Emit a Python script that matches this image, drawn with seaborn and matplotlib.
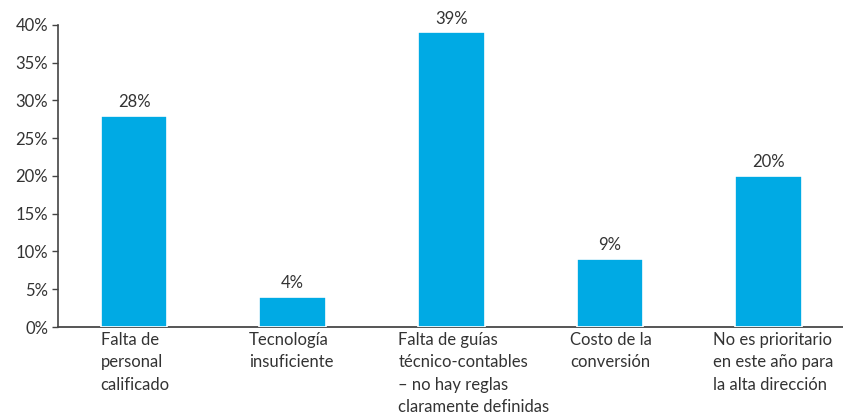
import matplotlib
matplotlib.use("Agg")
import matplotlib.pyplot as plt
import seaborn as sns
import pandas as pd
from matplotlib.ticker import FuncFormatter

categories = [
    "Falta de\npersonal\ncalificado",
    "Tecnología\ninsuficiente",
    "Falta de guías\ntécnico-contables\n– no hay reglas\nclaramente definidas",
    "Costo de la\nconversión",
    "No es prioritario\nen este año para\nla alta dirección",
]
values = [28, 4, 39, 9, 20]
yticks = [0, 5, 10, 15, 20, 25, 30, 35, 40]

sns.set_theme(style="white")
plt.rcParams["font.family"] = ["Lato", "DejaVu Sans"]

text_color = "#333333"
bar_color = "#00AAE4"
bar_width = 0.42
# horizontal shift (pixels) of each category label's left edge from the bar centre
label_shift_px = [-33.5, -43.5, -53, -40, -55]

df = pd.DataFrame({"cat": categories, "val": values})

fig = plt.figure(figsize=(8.43, 4.15), dpi=100)
ax = fig.add_axes([0.0688, 0.212, 0.9312, 0.728])

sns.barplot(data=df, x="cat", y="val", color=bar_color, width=bar_width,
            saturation=1, ax=ax, edgecolor="white", linewidth=1.2, zorder=3)

ax.set_ylim(0, 40)
ax.set_xlim(-0.48, 4.47)
ax.set_yticks(yticks)
ax.yaxis.set_major_formatter(FuncFormatter(lambda v, p: f"{int(v)}%"))
ax.tick_params(axis="y", direction="out", length=4, width=1, color="#444444",
               labelsize=12, labelcolor=text_color, pad=3, left=True)
ax.tick_params(axis="x", length=0, labelbottom=False)
ax.set_xlabel("")
ax.set_ylabel("")

for s in ["top", "right"]:
    ax.spines[s].set_visible(False)
ax.spines["left"].set_color("#444444")
ax.spines["left"].set_linewidth(1.2)
ax.spines["bottom"].set_color("#555555")
ax.spines["bottom"].set_linewidth(1.4)
ax.spines["bottom"].set_zorder(2)

for i, v in enumerate(values):
    ax.annotate(f"{v}%", (i, v), xytext=(0, 4), textcoords="offset points",
                ha="center", va="bottom", fontsize=12, color=text_color)

trans = ax.get_xaxis_transform()
for i, c in enumerate(categories):
    ax.annotate(c, (i, 0), xycoords=trans, xytext=(label_shift_px[i] * 0.72, -3.5),
                textcoords="offset points", ha="left", va="top",
                fontsize=12, color=text_color, linespacing=1.5)

fig.savefig("out.png", dpi=100)
